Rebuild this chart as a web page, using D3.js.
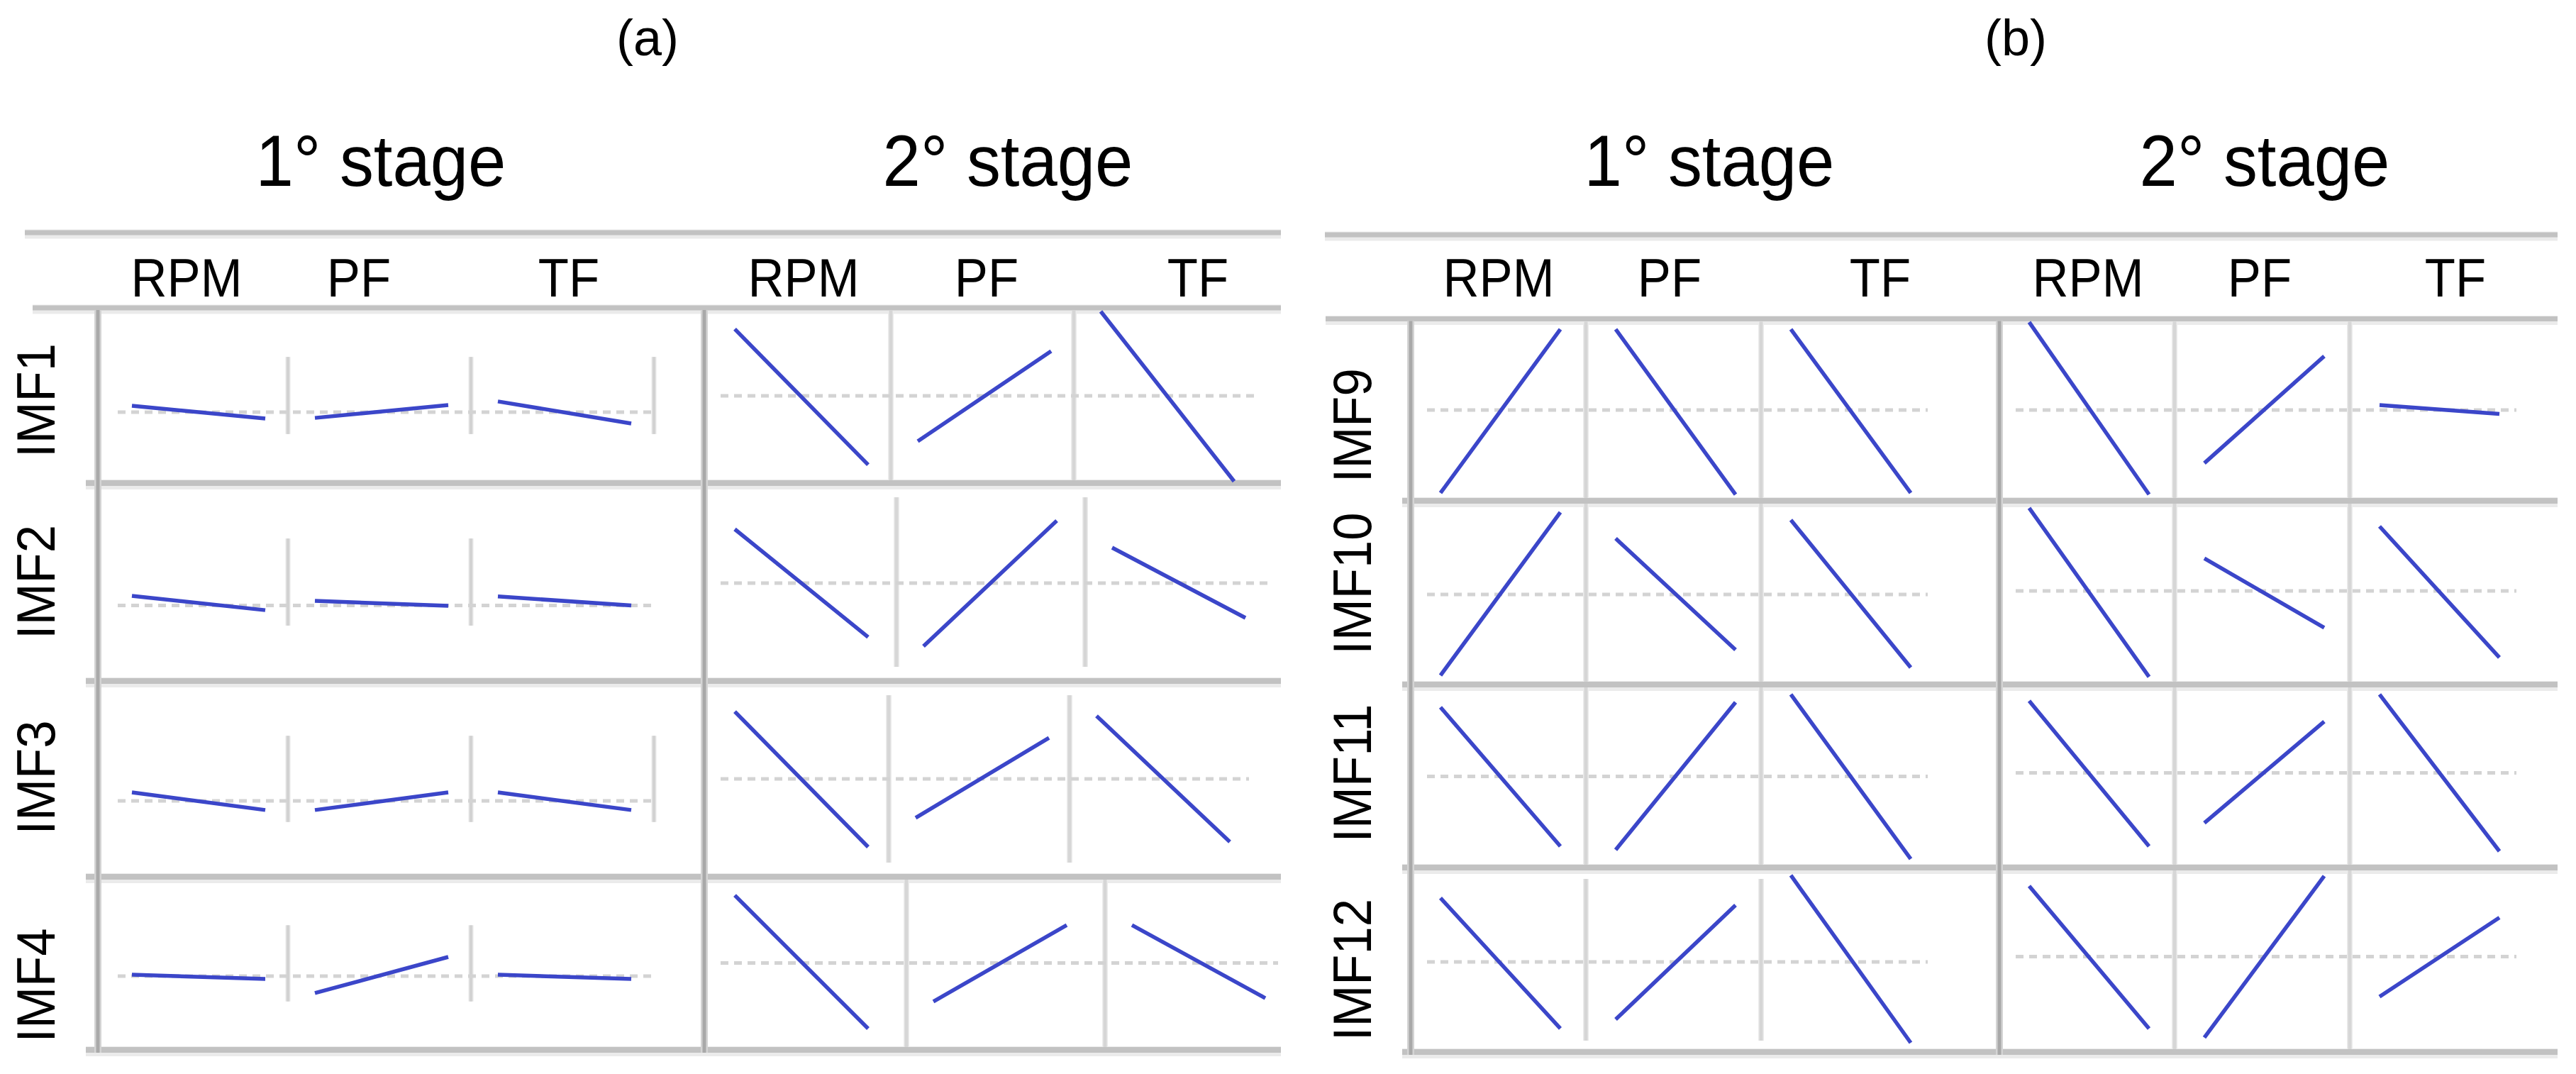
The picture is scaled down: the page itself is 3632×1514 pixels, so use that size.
<!DOCTYPE html>
<html><head><meta charset="utf-8">
<script src="https://cdn.jsdelivr.net/npm/d3@7"></script>
<style>html,body{margin:0;padding:0;background:#fff;} svg{display:block;}</style>
</head><body><svg id="chart" width="3632" height="1514"></svg>
<script>
// ---------------- DATA ----------------
const panelTitles = ["(a)", "(b)"];
const stageNames = ["1° stage", "2° stage"];
const factors = ["RPM", "PF", "TF"];
const rowsA = ["IMF1", "IMF2", "IMF3", "IMF4"];
const rowsB = ["IMF9", "IMF10", "IMF11", "IMF12"];

// mean response level (normalised 0..1 inside each row) : [1° stage, 2° stage]
const refA = [[0.405, 0.498], [0.382, 0.495], [0.388, 0.500], [0.426, 0.502]];
const refB = [[0.499, 0.499], [0.490, 0.510], [0.498, 0.517], [0.488, 0.517]];

// response at [low, high] level of RPM, PF, TF  (one row per IMF)
const a1 = [
  [[0.441, 0.368], [0.372, 0.445], [0.466, 0.340]],
  [[0.430, 0.358], [0.405, 0.380], [0.427, 0.382]],
  [[0.431, 0.341], [0.341, 0.431], [0.431, 0.341]],
  [[0.434, 0.410], [0.328, 0.537], [0.434, 0.410]]
];
const a2 = [
  [[0.879, 0.105], [0.239, 0.753], [0.980, 0.010]],
  [[0.767, 0.222], [0.176, 0.810], [0.674, 0.319]],
  [[0.844, 0.152], [0.301, 0.710], [0.822, 0.178]],
  [[0.893, 0.123], [0.279, 0.721], [0.721, 0.299]]
];
const b1 = [
  [[0.043, 0.943], [0.943, 0.035], [0.943, 0.043]],
  [[0.050, 0.938], [0.795, 0.189], [0.896, 0.093]],
  [[0.876, 0.116], [0.097, 0.903], [0.946, 0.047]],
  [[0.835, 0.127], [0.177, 0.796], [0.958, 0.050]]
];
const b2 = [
  [[0.982, 0.035], [0.207, 0.795], [0.526, 0.478]],
  [[0.961, 0.042], [0.687, 0.309], [0.861, 0.147]],
  [[0.911, 0.116], [0.244, 0.798], [0.946, 0.089]],
  [[0.900, 0.127], [0.078, 0.954], [0.300, 0.729]]
];

// ---------------- LAYOUT ----------------
const FONT = "'Liberation Sans', Arial, Helvetica, sans-serif";
const BLUE = "#3b46c9";
const layouts = [
  {
    titleX: 913, stageTitleX: [537, 1421],
    topRule: { y: 328, x0: 35 }, headRule: { y: 434, x0: 46 }, rowRuleX0: 121, right: 1806,
    bounds: [434, 681, 960, 1236, 1480],
    leftV: 138, divider: 993, stageX: [148, 998],
    cellW: [[258, 258, 258, 258], [258, 266, 255, 280]],
    inset: 38, lineLen: 188,
    headerOff: [[115, 100, 138], [135, 135, 175]],
    labelX: 77, labelOff: [7, 0, -2, 31],
    shortV: [3, 2, 3, 2],        // stage-1 short axis marks per row
    vInset: [null, [0, 16, 16, 0]],
    refPad: [18, 2]
  },
  {
    titleX: 2842, stageTitleX: [2410, 3193],
    topRule: { y: 331, x0: 1868 }, headRule: { y: 449.5, x0: 1869 }, rowRuleX0: 1977, right: 3606,
    bounds: [449.5, 706, 965, 1223, 1483],
    leftV: 1989, divider: 2819, stageX: [1989, 2819],
    cellW: [[247, 247, 247, 247], [247, 247, 247, 247]],
    inset: 42, lineLen: 169,
    headerOff: [[124, 118, 168], [125, 120, 149]],
    labelX: 1933, labelOff: [22, -13, -4, 14],
    shortV: null,
    vInset: [[0, 0, 0, 12], [0, 0, 0, 0]],
    refPad: [23, 12]
  }
];

const panels = [
  { title: panelTitles[0], rows: rowsA, ref: refA, eff: [a1, a2], L: layouts[0] },
  { title: panelTitles[1], rows: rowsB, ref: refB, eff: [b1, b2], L: layouts[1] }
];

// ---------------- DRAW ----------------
const svg = d3.select("#chart");
svg.append("rect").attr("width", 3632).attr("height", 1514).attr("fill", "#fff");

function text(g, str, x, y, size, sx, rot) {
  return g.append("text")
    .attr("transform", `translate(${x},${y}) rotate(${rot || 0}) scale(${sx},1)`)
    .attr("text-anchor", "middle")
    .attr("font-family", FONT)
    .attr("font-size", size)
    .attr("fill", "#000")
    .text(str);
}

function hRule(g, x0, x1, y, w) {
  g.append("line").attr("x1", x0).attr("x2", x1).attr("y1", y + 2).attr("y2", y + 2)
    .attr("stroke", "#ebebeb").attr("stroke-width", w + 6);
  g.append("line").attr("x1", x0).attr("x2", x1).attr("y1", y).attr("y2", y)
    .attr("stroke", "#c2c2c2").attr("stroke-width", w);
}
function vRule(g, x, y0, y1, dark) {
  g.append("line").attr("x1", x).attr("x2", x).attr("y1", y0).attr("y2", y1)
    .attr("stroke", dark ? "#d4d4d4" : "#ececec").attr("stroke-width", dark ? 10 : 8);
  g.append("line").attr("x1", x).attr("x2", x).attr("y1", y0).attr("y2", y1)
    .attr("stroke", dark ? "#a9a9a9" : "#d6d6d6").attr("stroke-width", dark ? 5 : 5);
}

const lineGen = d3.line().x(d => d[0]).y(d => d[1]);

panels.forEach(p => {
  const L = p.L;
  const g = svg.append("g");

  // titles
  text(g, p.title, L.titleX, 78, 72, 1.0);
  stageNames.forEach((s, si) => text(g, s, L.stageTitleX[si], 262, 102, 0.94));

  // rules
  hRule(g, L.topRule.x0, L.right, L.topRule.y, 7);
  hRule(g, L.headRule.x0, L.right, L.headRule.y, 7);
  L.bounds.slice(1).forEach(y => hRule(g, L.rowRuleX0, L.right, y, 8));

  // column headers
  stageNames.forEach((s, si) => {
    factors.forEach((f, fi) => {
      const x0 = L.stageX[si] + fi * L.cellW[si][0];
      text(g, f, x0 + L.headerOff[si][fi], 418, 76, 0.93);
    });
  });

  // rows
  p.rows.forEach((rName, ri) => {
    const top = L.bounds[ri], bot = L.bounds[ri + 1], h = bot - top;
    const y = d3.scaleLinear().domain([0, 1]).range([bot, top]);

    // row label
    text(g, rName, L.labelX, (top + bot) / 2 + L.labelOff[ri], 76, 0.93, -90);

    stageNames.forEach((s, si) => {
      const cw = L.cellW[si][ri];
      const sx0 = L.stageX[si];
      const cell = d3.scaleBand().domain(factors).range([sx0, sx0 + 3 * cw]);

      // vertical separators
      if (si === 0 && L.shortV) {
        const half = 0.22 * h, cy = (top + bot) / 2;
        for (let k = 1; k <= L.shortV[ri]; k++) {
          const x = sx0 + k * cw;
          g.append("line").attr("x1", x).attr("x2", x).attr("y1", cy - half).attr("y2", cy + half)
            .attr("stroke", "#e6e6e6").attr("stroke-width", 7);
          g.append("line").attr("x1", x).attr("x2", x).attr("y1", cy - half).attr("y2", cy + half)
            .attr("stroke", "#d2d2d2").attr("stroke-width", 4);
        }
      } else {
        const ins = L.vInset[si][ri];
        factors.slice(1).forEach(f => vRule(g, cell(f), top + 4 + ins, bot - 4 - ins, false));
      }

      // reference (mean) dotted line
      const rx0 = sx0 + L.refPad[0];
      const rx1 = Math.min(sx0 + 3 * cw - L.refPad[1], L.right - 4);
      g.append("line").attr("x1", rx0).attr("x2", rx1)
        .attr("y1", y(p.ref[ri][si])).attr("y2", y(p.ref[ri][si]))
        .attr("stroke", "#d3d3d3").attr("stroke-width", 5)
        .attr("stroke-dasharray", "11,8");

      // effect lines
      factors.forEach((f, fi) => {
        const x = d3.scaleLinear().domain([0, 1])
          .range([cell(f) + L.inset, cell(f) + L.inset + L.lineLen]);
        const v = p.eff[si][ri][fi];
        g.append("path")
          .attr("d", lineGen([[x(0), y(v[0])], [x(1), y(v[1])]]))
          .attr("fill", "none").attr("stroke", BLUE).attr("stroke-width", 5.5)
          .attr("stroke-linecap", "butt");
      });
    });
  });

  // main verticals (left edge and stage divider)
  vRule(g, L.leftV, L.headRule.y + 3, L.bounds[4] + 4, true);
  vRule(g, L.divider, L.headRule.y + 3, L.bounds[4] + 4, true);
});
</script>
</body></html>
